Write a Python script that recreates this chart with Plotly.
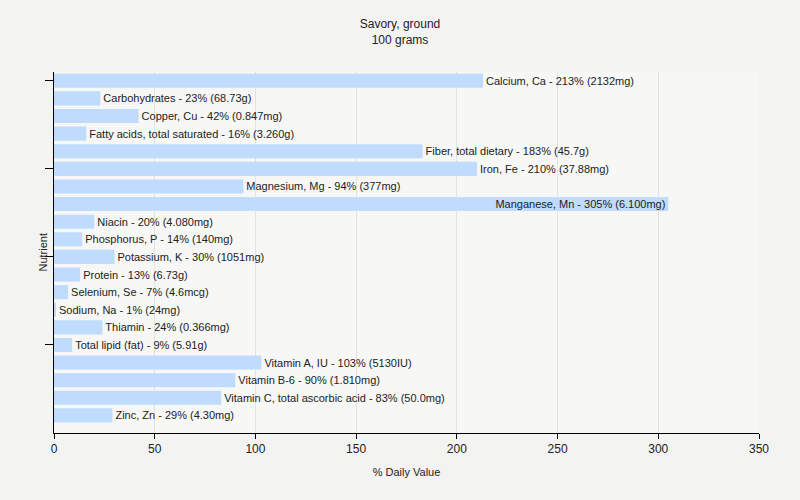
import plotly.graph_objects as go

nutrients = ["Calcium, Ca", "Carbohydrates", "Copper, Cu", "Fatty acids, total saturated",
             "Fiber, total dietary", "Iron, Fe", "Magnesium, Mg", "Manganese, Mn", "Niacin",
             "Phosphorus, P", "Potassium, K", "Protein", "Selenium, Se", "Sodium, Na",
             "Thiamin", "Total lipid (fat)", "Vitamin A, IU", "Vitamin B-6",
             "Vitamin C, total ascorbic acid", "Zinc, Zn"]
daily_pct = [213, 23, 42, 16, 183, 210, 94, 305, 20, 14, 30, 13, 7, 1, 24, 9, 103, 90, 83, 29]
amounts = ["2132mg", "68.73g", "0.847mg", "3.260g", "45.7g", "37.88mg", "377mg", "6.100mg",
           "4.080mg", "140mg", "1051mg", "6.73g", "4.6mcg", "24mg", "0.366mg", "5.91g",
           "5130IU", "1.810mg", "50.0mg", "4.30mg"]
inside_labels = ["Manganese, Mn"]
tick_rows = ["Calcium, Ca", "Iron, Fe", "Potassium, K", "Total lipid (fat)"]

labels = [f"{n} - {p}% ({a})" for n, p, a in zip(nutrients, daily_pct, amounts)]
positions = ["inside" if n in inside_labels else "outside" for n in nutrients]

fig = go.Figure(go.Bar(
    x=daily_pct, y=nutrients, orientation="h",
    text=labels, textposition=positions, insidetextanchor="end",
    textfont=dict(size=11, color="#222222"),
    marker=dict(color="#bfdbfd", line=dict(width=0)),
    cliponaxis=False, hoverinfo="skip",
))

fig.add_annotation(text="Nutrient", textangle=-90, xref="paper", yref="paper",
                   x=-12 / 705, y=0.5, xanchor="center", yanchor="middle",
                   showarrow=False, font=dict(size=11, color="#222222"))

fig.update_layout(
    width=800, height=500,
    paper_bgcolor="#f3f3f2", plot_bgcolor="#f7f7f6",
    font=dict(family="'Liberation Sans', Arial, sans-serif", size=11, color="#222222"),
    title=dict(text="Savory, ground<br>100 grams", x=0.5, xanchor="center", y=0.944, yanchor="top",
               font=dict(size=12)),
    margin=dict(l=54, r=41, t=72, b=67, autoexpand=False),
    uniformtext=dict(minsize=11, mode="show"),
    bargap=0.2, showlegend=False,
    xaxis=dict(range=[0, 350], tickvals=[0, 50, 100, 150, 200, 250, 300, 350],
               showgrid=True, gridcolor="#e2e2e2", zeroline=False, automargin=False,
               showline=True, linecolor="#000000", ticks="outside", ticklen=5,
               tickcolor="#000000", tickfont=dict(size=12),
               title=dict(text="% Daily Value", font=dict(size=11), standoff=12)),
    yaxis=dict(type="category", categoryorder="array", categoryarray=nutrients,
               range=[len(nutrients), -0.5], tickmode="array", tickvals=tick_rows,
               automargin=False, showticklabels=False, showgrid=False, showline=True,
               linecolor="#000000", ticks="outside", ticklen=8, tickcolor="#000000"),
)

fig.write_html("out.html", config={"displayModeBar": False},
               post_script="document.body.style.margin='0';")
